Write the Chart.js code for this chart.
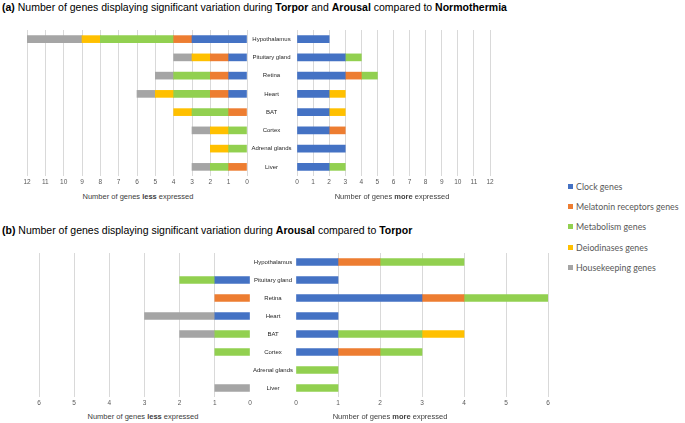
<!DOCTYPE html>
<html>
<head>
<meta charset="utf-8">
<script src="https://cdn.jsdelivr.net/npm/chart.js@4/dist/chart.umd.min.js"></script>
<style>
    body { margin: 0; background: #fff; width: 685px; height: 423px; position: relative; overflow: hidden; }
    canvas { position: absolute; }
    .title { position: absolute; font-family: "Liberation Sans", Arial, sans-serif; font-size: 11px; color: #000; white-space: nowrap; transform: scaleX(0.955); transform-origin: left top; }
    .axis_title { position: absolute; width: 200px; text-align: center; font-family: "Liberation Sans", Arial, sans-serif; font-size: 7.5px; color: #404040; white-space: nowrap; }
    .legend { position: absolute; left: 568px; top: 181px; font-family: Lato, "Open Sans", sans-serif; font-size: 8.8px; color: #595959; }
    .legend div { height: 20.2px; line-height: 12px; white-space: nowrap; }
    .legend span { display: inline-block; width: 5px; height: 5px; margin-right: 3px; vertical-align: 1px; }
</style>
</head>
<body>
<div class="title" style="left:2px; top:1px;"><b>(a)</b> Number of genes displaying significant variation during <b>Torpor</b> and <b>Arousal</b> compared to <b>Normothermia</b></div>
<div class="title" style="left:2px; top:224px;"><b>(b)</b> Number of genes displaying significant variation during <b>Arousal</b> compared to <b>Torpor</b></div>

<canvas id="a_less" width="236" height="160" style="left:19px; top:30px;"></canvas>
<canvas id="a_more" width="252" height="160" style="left:246px; top:30px;"></canvas>
<canvas id="b_less" width="227" height="158" style="left:31px; top:253px;"></canvas>
<canvas id="b_more" width="306" height="158" style="left:250px; top:253px;"></canvas>

<div class="axis_title" style="left:38px; top:192px;">Number of genes <b>less</b> expressed</div>
<div class="axis_title" style="left:292px; top:192px;">Number of genes <b>more</b> expressed</div>
<div class="axis_title" style="left:43px; top:412px;">Number of genes <b>less</b> expressed</div>
<div class="axis_title" style="left:290px; top:412px;">Number of genes <b>more</b> expressed</div>

<div class="legend" id="legend"></div>

<script>
const organs = ["Hypothalamus", "Pituitary gland", "Retina", "Heart", "BAT", "Cortex", "Adrenal glands", "Liver"]
const gene_groups = ["Clock genes", "Melatonin receptors genes", "Metabolism genes", "Deiodinases genes", "Housekeeping genes"]
const group_colors = ["#4472C4", "#ED7D31", "#92D050", "#FFC000", "#A5A5A5"]

// (a) torpor and arousal vs normothermia, less expressed
const a_less_clock = [3, 1, 1, 1, 0, 0, 0, 0]
const a_less_melatonin = [1, 1, 1, 1, 1, 0, 0, 1]
const a_less_metabolism = [4, 0, 2, 2, 2, 1, 1, 1]
const a_less_deiodinases = [1, 1, 0, 1, 1, 1, 1, 0]
const a_less_housekeeping = [3, 1, 1, 1, 0, 1, 0, 1]

// (a) more expressed
const a_more_clock = [2, 3, 3, 2, 2, 2, 3, 2]
const a_more_melatonin = [0, 0, 1, 0, 0, 1, 0, 0]
const a_more_metabolism = [0, 1, 1, 0, 0, 0, 0, 1]
const a_more_deiodinases = [0, 0, 0, 1, 1, 0, 0, 0]
const a_more_housekeeping = [0, 0, 0, 0, 0, 0, 0, 0]

// (b) arousal vs torpor, less expressed
const b_less_clock = [0, 1, 0, 1, 0, 0, 0, 0]
const b_less_melatonin = [0, 0, 1, 0, 0, 0, 0, 0]
const b_less_metabolism = [0, 1, 0, 0, 1, 1, 0, 0]
const b_less_deiodinases = [0, 0, 0, 0, 0, 0, 0, 0]
const b_less_housekeeping = [0, 0, 0, 2, 1, 0, 0, 1]

// (b) more expressed
const b_more_clock = [1, 1, 3, 1, 1, 1, 0, 0]
const b_more_melatonin = [1, 0, 1, 0, 0, 1, 0, 0]
const b_more_metabolism = [2, 0, 2, 0, 2, 1, 1, 1]
const b_more_deiodinases = [0, 0, 0, 0, 1, 0, 0, 0]
const b_more_housekeeping = [0, 0, 0, 0, 0, 0, 0, 0]

const tick_font = { family: "'Liberation Sans', Arial, sans-serif", size: 6.5 }
const label_font = { family: "'Liberation Sans', Arial, sans-serif", size: 6 }

// zero counts become null so no hairline bar is drawn for them
const make_datasets = (series) => series.map((values, i) => ({
    label: gene_groups[i],
    data: values.map((v) => v === 0 ? null : v),
    backgroundColor: group_colors[i],
    borderWidth: 0,
    barThickness: 7
}))

const make_chart = (id, series, x_max, is_left, label_width, show_zero_line) => {
    const config = {
        type: 'bar',
        data: { labels: organs, datasets: make_datasets(series) },
        options: {
            indexAxis: 'y',
            responsive: false,
            animation: false,
            layout: { padding: { left: is_left ? 8 : 0, right: 8, top: 0, bottom: 0 } },
            plugins: { legend: { display: false }, tooltip: { enabled: false } },
            scales: {
                x: {
                    stacked: true,
                    min: 0,
                    max: x_max,
                    reverse: is_left,
                    grid: {
                        color: (ctx) => (ctx.tick && ctx.tick.value === 0 && !show_zero_line) ? 'rgba(0,0,0,0)' : '#D9D9D9',
                        drawTicks: false
                    },
                    border: { display: false },
                    ticks: { stepSize: 1, padding: 2, color: '#595959', font: tick_font, maxRotation: 0 },
                    afterFit: (scale) => { scale.height = 14 }
                },
                y: {
                    stacked: true,
                    display: !is_left,
                    grid: { display: false, drawTicks: false },
                    border: { display: false },
                    ticks: { color: '#262626', font: label_font, crossAlign: 'center', padding: 0 },
                    afterFit: (scale) => {
                        // centre the organ names in the gap between the two halves
                        const widest = scale._getLabelSizes().widest.width
                        scale.width = label_width
                        scale.paddingTop = 0
                        scale.paddingBottom = 0
                        scale.options.ticks.padding = Math.max(label_width / 2 - widest / 2, 0)
                    }
                }
            }
        }
    }
    return new Chart(document.getElementById(id), config)
}

make_chart("a_less", [a_less_clock, a_less_melatonin, a_less_metabolism, a_less_deiodinases, a_less_housekeeping], 12, true, 0, true)
make_chart("a_more", [a_more_clock, a_more_melatonin, a_more_metabolism, a_more_deiodinases, a_more_housekeeping], 12, false, 51, true)
make_chart("b_less", [b_less_clock, b_less_melatonin, b_less_metabolism, b_less_deiodinases, b_less_housekeeping], 6, true, 0, false)
make_chart("b_more", [b_more_clock, b_more_melatonin, b_more_metabolism, b_more_deiodinases, b_more_housekeeping], 6, false, 46, false)

// legend
const legend = document.getElementById("legend")
gene_groups.forEach((name, i) => {
    const row = document.createElement("div")
    row.innerHTML = '<span style="background:' + group_colors[i] + '"></span>' + name
    legend.appendChild(row)
})
</script>
</body>
</html>
